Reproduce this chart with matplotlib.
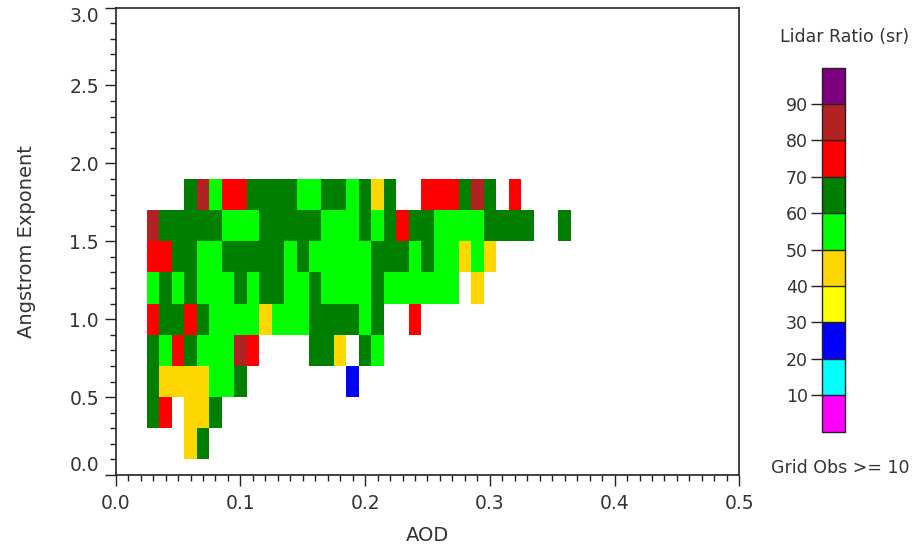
import numpy as np
import matplotlib
matplotlib.use("Agg")
import matplotlib.pyplot as plt
from matplotlib.colors import ListedColormap, BoundaryNorm
from matplotlib.ticker import MultipleLocator

n = np.nan

# AOD bin centres (columns) and Angstrom exponent bin centres (rows)
aod_centers = [0.03, 0.04, 0.05, 0.06, 0.07, 0.08, 0.09, 0.10, 0.11, 0.12,
               0.13, 0.14, 0.15, 0.16, 0.17, 0.18, 0.19, 0.20, 0.21, 0.22,
               0.23, 0.24, 0.25, 0.26, 0.27, 0.28, 0.29, 0.30, 0.31, 0.32,
               0.33, 0.34, 0.35, 0.36]
ae_centers = [0.2, 0.4, 0.6, 0.8, 1.0, 1.2, 1.4, 1.6, 1.8]

# Lidar ratio (sr) per grid cell, one list per Angstrom row (NaN = < 10 obs)
lr_ae_02 = [n, n, n, 45, 65] + [n] * 29
lr_ae_04 = [65, 75, n, 45, 45, 65] + [n] * 28
lr_ae_06 = [65, 45, 45, 45, 45, 55, 55, 65] + [n] * 8 + [25] + [n] * 17
lr_ae_08 = [65, 55, 75, 65, 55, 55, 55, 85, 75, n, n, n, n, 65, 65, 45, n, 65, 55] + [n] * 15
lr_ae_10 = [75, 65, 65, 75, 65, 55, 55, 55, 55, 45, 55, 55, 55, 65, 65, 65, 65, 55, 65,
            n, n, 75] + [n] * 12
lr_ae_12 = [55, 65, 55, 65, 55, 55, 55, 65, 55, 65, 65, 55, 55, 65, 55, 55, 55, 55, 65,
            55, 55, 55, 55, 55, 55, n, 45] + [n] * 7
lr_ae_14 = [75, 75, 65, 65, 55, 55, 65, 65, 65, 65, 65, 55, 65, 55, 55, 55, 55, 55, 65,
            65, 65, 55, 65, 55, 55, 45, 55, 45] + [n] * 6
lr_ae_16 = [85, 65, 65, 65, 65, 65, 55, 55, 55, 65, 65, 65, 65, 65, 55, 55, 55, 65, 55,
            65, 75, 65, 65, 55, 55, 55, 55, 65, 65, 65, 65, n, n, 65]
lr_ae_18 = [n, n, n, 65, 85, 55, 75, 75, 65, 65, 65, 65, 55, 55, 65, 65, 55, 65, 45,
            65, n, n, 75, 75, 75, 65, 85, 65, n, 75, n, n, n, n]

# colour scale
levels = [0, 10, 20, 30, 40, 50, 60, 70, 80, 90, 100]
cbar_ticks = [10, 20, 30, 40, 50, 60, 70, 80, 90]
colors = ["#FF00FF", "#00FFFF", "#0000FF", "#FFFF00", "#FFD700",
          "#00FF00", "#007F00", "#FF0000", "#B22222", "#7F007F"]

x_ticks = [0.0, 0.1, 0.2, 0.3, 0.4, 0.5]
x_ticklabels = ["0.0", "0.1", "0.2", "0.3", "0.4", "0.5"]
y_ticks = [0.0, 0.5, 1.0, 1.5, 2.0, 2.5, 3.0]
y_ticklabels = ["0.0", "0.5", "1.0", "1.5", "2.0", "2.5", "3.0"]

Z = np.array([lr_ae_02, lr_ae_04, lr_ae_06, lr_ae_08, lr_ae_10,
              lr_ae_12, lr_ae_14, lr_ae_16, lr_ae_18], dtype=float)
Z = np.ma.masked_invalid(Z)

xc = np.array(aod_centers)
yc = np.array(ae_centers)
dx = xc[1] - xc[0]
dy = yc[1] - yc[0]
xe = np.append(xc - dx / 2, xc[-1] + dx / 2)
ye = np.append(yc - dy / 2, yc[-1] + dy / 2)

cmap = ListedColormap(colors)
norm = BoundaryNorm(levels, cmap.N)

TXT = "#333333"
W, H = 914, 549
fig = plt.figure(figsize=(W / 100, H / 100), dpi=100)
ax = fig.add_axes([115.7 / W, (H - 475) / H, (739.3 - 115.7) / W, (475 - 7.5) / H])

mesh = ax.pcolormesh(xe, ye, Z, cmap=cmap, norm=norm, shading="flat")

ax.set_xlim(0, 0.5)
ax.set_ylim(0, 3.0)
ax.set_xticks(x_ticks)
ax.set_xticklabels(x_ticklabels)
ax.set_yticks(y_ticks)
ax.set_yticklabels(y_ticklabels)
ax.xaxis.set_minor_locator(MultipleLocator(0.01))
ax.yaxis.set_minor_locator(MultipleLocator(0.1))
ax.tick_params(which="both", direction="out", top=False, right=False,
               colors="#222222", labelcolor=TXT, labelsize=13.5, width=1)
ax.tick_params(which="major", length=8)
ax.tick_params(axis="x", which="major", pad=6)
ax.tick_params(axis="y", which="major", pad=4)
ax.tick_params(which="minor", length=4)
for s in ax.spines.values():
    s.set_linewidth(1.2)
    s.set_color("#222222")

# end labels of the y axis are pulled inside the axis range (as in the original)
ylabs = ax.get_yticklabels()
ylabs[0].set_verticalalignment("bottom")
ylabs[-1].set_verticalalignment("top")

ax.set_xlabel("AOD", fontsize=14, color=TXT, labelpad=9)
ax.set_ylabel("Angstrom Exponent", fontsize=14, color=TXT, labelpad=24)

cax = fig.add_axes([821.7 / W, (H - 431.7) / H, 23.3 / W, 364 / H])
cb = fig.colorbar(mesh, cax=cax, ticks=cbar_ticks, drawedges=True)
cb.outline.set_linewidth(1.0)
cb.outline.set_edgecolor("#222222")
cb.dividers.set_color("#222222")
cb.dividers.set_linewidth(1.0)
cax.yaxis.set_ticks_position("left")
cax.yaxis.set_label_position("left")
cax.tick_params(direction="out", length=8, width=1, labelsize=12.5,
                colors="#222222", labelcolor=TXT, pad=2)
cax.minorticks_off()

fig.text(845 / W, 1 - 37 / H, "Lidar Ratio (sr)", ha="center", va="center",
         fontsize=12.5, color=TXT)
fig.text(840 / W, 1 - 468 / H, "Grid Obs >= 10", ha="center", va="center",
         fontsize=12.5, color=TXT)

fig.savefig("out.png", dpi=100)
